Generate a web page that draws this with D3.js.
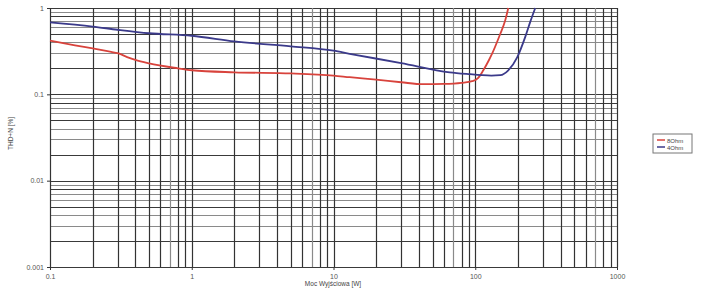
<!DOCTYPE html>
<html>
<head>
<meta charset="utf-8">
<script src="https://cdn.jsdelivr.net/npm/d3@7"></script>
<style>
  body { margin: 0; background: #fff; }
  text { font-family: "Liberation Sans", Arial, sans-serif; fill: #444; }
</style>
</head>
<body>
<div class="chart"></div>
<script>
// 8 Ohm curve (power W, THD+N %)
var power8 = [0.1, 0.15, 0.2, 0.27, 0.3, 0.35, 0.4, 0.5, 0.8, 1, 2, 5, 10, 13, 20, 30, 43, 60, 80, 95, 105, 114, 125, 132, 150, 162, 171];
var thd8 = [0.42, 0.37, 0.34, 0.31, 0.30, 0.27, 0.25, 0.228, 0.20, 0.19, 0.18, 0.175, 0.165, 0.158, 0.148, 0.138, 0.131, 0.132, 0.136, 0.142, 0.155, 0.19, 0.25, 0.30, 0.50, 0.7, 1.0];

// 4 Ohm curve
var power4 = [0.1, 0.2, 0.3, 0.5, 1, 2, 5, 10, 13, 30, 66, 92, 110, 130, 150, 171, 198, 225, 245, 265];
var thd4 = [0.68, 0.61, 0.56, 0.51, 0.477, 0.41, 0.36, 0.32, 0.295, 0.23, 0.18, 0.171, 0.167, 0.165, 0.167, 0.19, 0.27, 0.46, 0.7, 1.0];

var xTicks = [0.1, 1, 10, 100, 1000];
var yTicks = [0.001, 0.01, 0.1, 1];
var legendNames = ["8Ohm", "4Ohm"];
var colors = ["#d8433c", "#3b3a8a"];

var margin = {top: 8, right: 88, bottom: 23, left: 50},
    width = 705 - margin.left - margin.right,
    height = 290 - margin.top - margin.bottom;

var svg = d3.select(".chart").append("svg")
    .attr("width", 705)
    .attr("height", 290)
    .append("g")
    .attr("transform", "translate(" + margin.left + "," + margin.top + ")");

var x = d3.scaleLog().domain([0.1, 1000]).range([0, width]);
var y = d3.scaleLog().domain([0.001, 1]).range([height, 0]);

// minor + major grid values
function logGrid(lo, hi) {
    var out = [];
    for (var p = lo; p < hi; p *= 10) {
        for (var k = 1; k < 10; k++) out.push(+(p * k).toPrecision(3));
    }
    out.push(hi);
    return out;
}

svg.selectAll(".hgrid")
    .data(logGrid(0.001, 1))
    .enter().append("line")
    .attr("x1", 0).attr("x2", width)
    .attr("y1", function(d) { return Math.round(y(d)) + 0.5; })
    .attr("y2", function(d) { return Math.round(y(d)) + 0.5; })
    .attr("stroke", function(d, i) { return i % 9 === 0 || i % 3 === 1 ? "#3a3a3a" : "#8a8a8a"; })
    .attr("stroke-width", 1.2);

svg.selectAll(".vgrid")
    .data(logGrid(0.1, 1000))
    .enter().append("line")
    .attr("y1", 0).attr("y2", height)
    .attr("x1", function(d) { return Math.round(x(d)) + 0.5; })
    .attr("x2", function(d) { return Math.round(x(d)) + 0.5; })
    .attr("stroke", function(d, i) { return i % 9 === 6 ? "#8a8a8a" : "#333"; })
    .attr("stroke-width", 1.2);

// axes
svg.append("g")
    .attr("transform", "translate(0," + height + ")")
    .call(d3.axisBottom(x).tickValues(xTicks).tickFormat(d3.format("~g")).tickSize(3))
    .call(function(g) {
        g.select(".domain").remove();
        g.selectAll("line").attr("stroke", "#333");
        g.selectAll("text").attr("font-size", 7).attr("dy", "0.9em").style("fill", "#555");
    });

svg.append("g")
    .call(d3.axisLeft(y).tickValues(yTicks).tickFormat(d3.format("~g")).tickSize(3))
    .call(function(g) {
        g.select(".domain").remove();
        g.selectAll("line").attr("stroke", "#333");
        g.selectAll("text").attr("font-size", 7).style("fill", "#555");
    });

// axis titles
svg.append("text")
    .attr("x", width / 2 - 0.5)
    .attr("y", height + 19)
    .attr("text-anchor", "middle")
    .attr("font-size", 6.5)
    .text("Moc Wyjściowa [W]");

svg.append("text")
    .attr("transform", "translate(" + (-37) + "," + (height / 2 - 4) + ") rotate(-90)")
    .attr("text-anchor", "middle")
    .attr("font-size", 6.5)
    .text("THD+N [%]");

// curves
var line = d3.line()
    .x(function(d) { return x(d[0]); })
    .y(function(d) { return y(d[1]); })
    .curve(d3.curveMonotoneX);

var series = [d3.zip(power8, thd8), d3.zip(power4, thd4)];

svg.selectAll(".curve")
    .data(series)
    .enter().append("path")
    .attr("d", line)
    .attr("fill", "none")
    .attr("stroke", function(d, i) { return colors[i]; })
    .attr("stroke-width", 1.8);

// legend
var lg = svg.append("g")
    .attr("transform", "translate(" + (width + 36) + "," + 126 + ")");

lg.append("rect")
    .attr("width", 39).attr("height", 19)
    .attr("fill", "#fff")
    .attr("stroke", "#777");

legendNames.forEach(function(name, i) {
    lg.append("line")
        .attr("x1", 4).attr("x2", 12)
        .attr("y1", 6 + i * 7).attr("y2", 6 + i * 7)
        .attr("stroke", colors[i]).attr("stroke-width", 1.5);
    lg.append("text")
        .attr("x", 14).attr("y", 8.5 + i * 7)
        .attr("font-size", 6)
        .text(name);
});
</script>
</body>
</html>
